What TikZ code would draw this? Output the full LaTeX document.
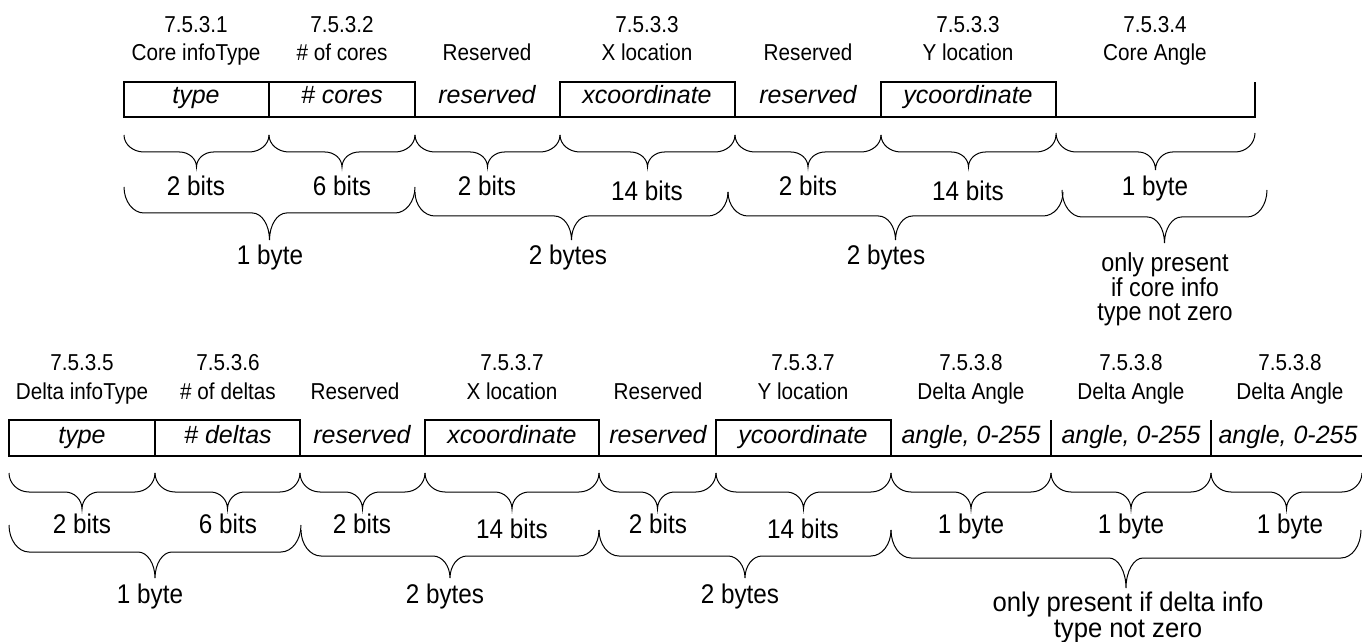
\documentclass[tikz,border=0pt]{standalone}
\usepackage{fontspec}
\setmainfont{Liberation Sans}
\newfontfamily\nrw[FakeStretch=0.9]{Liberation Sans}
\newfontfamily\nrww[FakeStretch=0.95]{Liberation Sans}
\newcommand\bER{20}
\newcommand\bCR{17}
\newcommand\mybrace[5]{%
  \pgfmathsetmacro\bXc{(#1+#2)/2}%
  \pgfmathsetmacro\bDa{#4-#3}%
  \pgfmathsetmacro\bDb{#5-#4}%
  \draw[brc] (#1,#3) .. controls (#1,{#3+0.55*\bDa}) and ({#1+0.45*\bER},#4) .. ({#1+\bER},#4)
    -- ({\bXc-\bCR},#4) .. controls ({\bXc-0.45*\bCR},#4) and (\bXc,{#5-0.55*\bDb}) .. (\bXc,#5)
    .. controls (\bXc,{#5-0.55*\bDb}) and ({\bXc+0.45*\bCR},#4) .. ({\bXc+\bCR},#4)
    -- ({#2-\bER},#4) .. controls ({#2-0.45*\bER},#4) and (#2,{#3+0.55*\bDa}) .. (#2,#3);
}
\begin{document}
\begin{tikzpicture}[x=0.5pt,y=-0.5pt,
  hd/.style={font=\nrw\fontsize{11.5}{14}\selectfont, inner sep=0, anchor=base},
  fld/.style={font=\fontsize{12.5}{15}\selectfont\itshape, inner sep=0, anchor=base},
  lb/.style={font=\nrw\fontsize{13.5}{15}\selectfont, inner sep=0, anchor=base},
  lbm/.style={font=\nrw\fontsize{13}{15}\selectfont, inner sep=0, anchor=base},
  lbw/.style={font=\nrww\fontsize{13.5}{15}\selectfont, inner sep=0, anchor=base},
  bx/.style={line width=0.6pt, draw=black},
  brc/.style={line width=0.5pt, draw=black}]
\useasboundingbox (0,0) rectangle (1362,642);

% ================= TOP ROW =================
\node[hd] (h1a) at (196,33) {7.5.3.1};
\node[hd] (h1b) at (196,61) {Core infoType};
\node[hd] (h2a) at (342,33) {7.5.3.2};
\node[hd] (h2b) at (342,61) {\# of cores};
\node[hd] (h3b) at (487,61) {Reserved};
\node[hd] (h4a) at (647,33) {7.5.3.3};
\node[hd] (h4b) at (647,61) {X location};
\node[hd] (h5b) at (808,61) {Reserved};
\node[hd] (h6a) at (968,33) {7.5.3.3};
\node[hd] (h6b) at (968,61) {Y location};
\node[hd] (h7a) at (1155,33) {7.5.3.4};
\node[hd] (h7b) at (1155,61) {Core Angle};

\draw[bx] (124,82) rectangle (269,117);
\draw[bx] (269,82) rectangle (415,117);
\draw[bx] (415,117) -- (560,117);
\draw[bx] (560,82) rectangle (735,117);
\draw[bx] (735,117) -- (881,117);
\draw[bx] (881,82) rectangle (1056,117);
\draw[bx] (1056,117) -- (1255,117) -- (1255,82);

\node[fld] (f1) at (196,104) {type};
\node[fld] (f2) at (342,104) {\# cores};
\node[fld] (f3) at (487,104) {reserved};
\node[fld] (f4) at (647,104) {xcoordinate};
\node[fld] (f5) at (808,104) {reserved};
\node[fld] (f6) at (968,104) {ycoordinate};

\mybrace{124}{269}{135}{152}{167}
\mybrace{269}{415}{135}{152}{167}
\mybrace{415}{560}{135}{152}{167}
\mybrace{560}{735}{135}{152}{167}
\mybrace{735}{881}{135}{152}{167}
\mybrace{881}{1056}{135}{152}{167}
\mybrace{1056}{1255}{133}{152}{170}

\node[lb] (l1) at (196,196) {2 bits};
\node[lb] (l2) at (342,196) {6 bits};
\node[lb] (l3) at (487,196) {2 bits};
\node[lb] (l4) at (647,201) {14 bits};
\node[lb] (l5) at (808,196) {2 bits};
\node[lb] (l6) at (968,201) {14 bits};
\node[lb] (l7) at (1155,196) {1 byte};

\mybrace{124}{415}{187}{213}{240}
\mybrace{415}{728}{192}{216}{240}
\mybrace{728}{1063}{192}{216}{240}
\mybrace{1062}{1267}{190}{217}{243}

\node[lb] (g1) at (270,264) {1 byte};
\node[lb] (g2) at (568,264) {2 bytes};
\node[lb] (g3) at (886,264) {2 bytes};
\node[lbm] (g4a) at (1165,271) {only present};
\node[lbm] (g4b) at (1165,296) {if core info};
\node[lbm] (g4c) at (1165,321) {type not zero};

% ================= BOTTOM ROW =================
\node[hd] (k1a) at (82,371) {7.5.3.5};
\node[hd] (k1b) at (82,400) {Delta infoType};
\node[hd] (k2a) at (228,371) {7.5.3.6};
\node[hd] (k2b) at (228,400) {\# of deltas};
\node[hd] (k3b) at (355,400) {Reserved};
\node[hd] (k4a) at (512,371) {7.5.3.7};
\node[hd] (k4b) at (512,400) {X location};
\node[hd] (k5b) at (658,400) {Reserved};
\node[hd] (k6a) at (803,371) {7.5.3.7};
\node[hd] (k6b) at (803,400) {Y location};
\node[hd] (k7a) at (971,371) {7.5.3.8};
\node[hd] (k7b) at (971,400) {Delta Angle};
\node[hd] (k8a) at (1131,371) {7.5.3.8};
\node[hd] (k8b) at (1131,400) {Delta Angle};
\node[hd] (k9a) at (1290,371) {7.5.3.8};
\node[hd] (k9b) at (1290,400) {Delta Angle};

\draw[bx] (9,420) rectangle (155,456);
\draw[bx] (155,420) rectangle (300,456);
\draw[bx] (300,456) -- (425,456);
\draw[bx] (425,420) rectangle (599,456);
\draw[bx] (599,456) -- (716,456);
\draw[bx] (716,420) rectangle (891,456);
\draw[bx] (891,456) -- (1362,456);
\draw[bx] (1051,420) -- (1051,456);
\draw[bx] (1211,420) -- (1211,456);

\node[fld] (e1) at (82,443) {type};
\node[fld] (e2) at (228,443) {\# deltas};
\node[fld] (e3) at (362,443) {reserved};
\node[fld] (e4) at (512,443) {xcoordinate};
\node[fld] (e5) at (658,443) {reserved};
\node[fld] (e6) at (803,443) {ycoordinate};
\node[fld] (e7) at (971,443) {angle, 0-255};
\node[fld] (e8) at (1131,443) {angle, 0-255};
\node[fld] (e9) at (1288,443) {angle, 0-255};

\mybrace{9}{155}{473}{492}{509}
\mybrace{155}{300}{473}{492}{509}
\mybrace{300}{425}{473}{492}{509}
\mybrace{425}{599}{473}{492}{509}
\mybrace{599}{716}{473}{492}{509}
\mybrace{716}{891}{473}{492}{509}
\mybrace{891}{1051}{473}{492}{509}
\mybrace{1051}{1211}{473}{492}{509}
\mybrace{1211}{1362}{473}{492}{509}

\node[lb] (m1) at (82,533) {2 bits};
\node[lb] (m2) at (228,533) {6 bits};
\node[lb] (m3) at (362,533) {2 bits};
\node[lb] (m4) at (512,538) {14 bits};
\node[lb] (m5) at (658,533) {2 bits};
\node[lb] (m6) at (803,538) {14 bits};
\node[lb] (m7) at (971,533) {1 byte};
\node[lb] (m8) at (1131,533) {1 byte};
\node[lb] (m9) at (1290,533) {1 byte};

\mybrace{9}{301}{525}{552}{578}
\mybrace{301}{599}{530}{556}{578}
\mybrace{599}{891}{530}{556}{578}
\mybrace{891}{1361}{530}{558}{588}

\node[lb] (n1) at (150,603) {1 byte};
\node[lb] (n2) at (445,603) {2 bytes};
\node[lb] (n3) at (740,603) {2 bytes};
\node[lbw] (n4a) at (1128,611) {only present if delta info};
\node[lbw] (n4b) at (1128,637) {type not zero};
\end{tikzpicture}
\end{document}
